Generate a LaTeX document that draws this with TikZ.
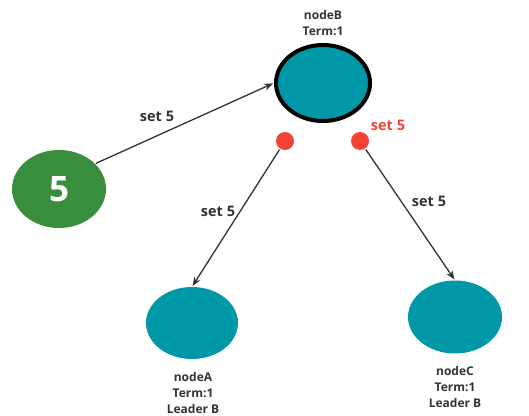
\documentclass[tikz,border=0pt]{standalone}
\usepackage{fontspec}
\setmainfont{Open Sans}
\usetikzlibrary{shapes.geometric,arrows.meta}
\definecolor{teal}{HTML}{0097A7}
\definecolor{grn}{HTML}{388E3C}
\definecolor{rd}{HTML}{F44336}
\definecolor{txt}{HTML}{333333}
\tikzset{
  srv/.style={ellipse,fill=teal,inner sep=0pt},
  lbl/.style={text=txt,font=\bfseries\fontsize{12}{16}\selectfont,align=center,inner sep=0pt},
  edgelbl/.style={text=txt,font=\bfseries\fontsize{14.5}{16}\selectfont,inner sep=0pt},
  conn/.style={draw=txt,line width=1.3pt,-{Stealth[length=9pt,width=7pt]}},
  dot/.style={circle,fill=rd,minimum size=18pt,inner sep=0pt}
}
\begin{document}
\begin{tikzpicture}[x=1pt,y=1pt]
\useasboundingbox (0,0) rectangle (529,415);
\node[srv,draw=black,line width=4pt,minimum width=94pt,minimum height=76pt] (B) at (323,332) {};
\node[ellipse,fill=grn,minimum width=94pt,minimum height=78pt,inner sep=0pt,text=white,font=\bfseries\fontsize{35}{35}\selectfont] (G) at (59,226) {5};
\node[srv,minimum width=92pt,minimum height=72pt] (A) at (192,92) {};
\node[srv,minimum width=94pt,minimum height=73pt] (C) at (455,98) {};
\node[dot] (d1) at (285,274) {};
\node[dot] (d2) at (360,274) {};
\node[lbl] (lb) at (323,392) {nodeB\\Term:1};
\node[lbl] (la) at (193,22) {nodeA\\Term:1\\Leader B};
\node[lbl] (lc) at (455,28) {nodeC\\Term:1\\Leader B};
\draw[conn,shorten <=1pt,shorten >=1pt] (G.35) -- (B.west);
\draw[conn,shorten <=1pt,shorten >=1pt] (d1) -- (A.north);
\draw[conn,shorten <=1pt,shorten >=1pt] (d2) -- (C.north);
\node[edgelbl] (l1) at (157,299) {set 5};
\node[edgelbl] (l2) at (218,204) {set 5};
\node[edgelbl] (l3) at (429,214) {set 5};
\node[edgelbl,text=rd] (l4) at (388,290) {set 5};
\end{tikzpicture}
\end{document}
